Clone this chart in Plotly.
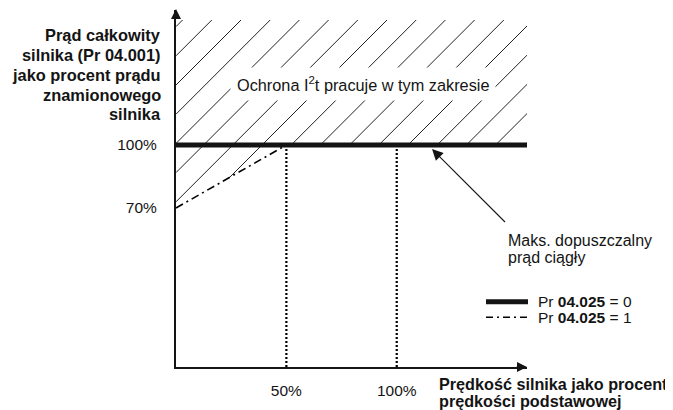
import plotly.graph_objects as go

# ---- data ----
speed_pr0 = [0, 159]          # % of base speed
current_pr0 = [100, 100]      # % of rated current (Pr 04.025 = 0)
speed_pr1 = [0, 50]
current_pr1 = [70, 100]       # Pr 04.025 = 1
base_speed_marks = [50, 100]
x_tick_vals = [50, 100]
x_tick_text = ["50%", "100%"]
y_tick_vals = [70, 100]
y_tick_text = ["70%", "100%"]

# ---- layout geometry (pixels of the 673x410 view; page body has 8px margin) ----
OFF = 8
W, H = 673 - OFF, 410 - OFF
AX_L, AX_R, AX_T, AX_B = 176, 527, 10, 367      # plot-area edges in view pixels
L, T = AX_L - OFF, AX_T - OFF
R, B = W - (AX_R - OFF), H - (AX_B - OFF)
PW, PH = AX_R - AX_L, AX_B - AX_T
X0, X1 = 0, 159
SX = PW / (X1 - X0)
SY = 2.1
Y1 = 100 + (145 - AX_T) / SY
Y0 = Y1 - PH / SY

def dx(px):
    return X0 + (px - AX_L) / SX

def dy(py):
    return Y1 - (py - AX_T) / SY

def paper_x(px):
    return (px - AX_L) / PW

def paper_y(py):
    return (AX_B - py) / PH

FONT = "Liberation Sans, Arial, sans-serif"
INK = "#141414"

# ---- hatch lines (45 degree, in pixel space then mapped to data) ----
hx, hy = [], []
spacing, c0 = 29.2, 26.6
top_py, line_py, right_px = 20, 145, 528
dd_py0 = 145 + (100 - current_pr1[0]) * SY
dd_slope = (dd_py0 - 145) / (speed_pr1[1] * SX)
for k in range(40):
    c = c0 + spacing * k
    t_lo = max(0, c - line_py)
    t_hi = min(right_px - AX_L, c - top_py)
    if t_lo < t_hi:
        hx += [dx(AX_L + t_lo), dx(AX_L + t_hi), None]
        hy += [dy(c - t_lo), dy(c - t_hi), None]
    if c > line_py:
        t_lo = max(0, (c - dd_py0) / (1 - dd_slope))
        t_hi = c - line_py
        if t_lo < t_hi:
            hx += [dx(AX_L + t_lo), dx(AX_L + t_hi), None]
            hy += [dy(c - t_lo), dy(c - t_hi), None]

fig = go.Figure()
fig.add_trace(go.Scatter(x=hx, y=hy, mode="lines",
                         line=dict(color="#222222", width=1),
                         hoverinfo="skip", showlegend=False))
for xv in base_speed_marks:
    fig.add_trace(go.Scatter(x=[xv, xv], y=[100, Y0], mode="lines",
                             line=dict(color="#000000", width=2.2, dash="2px,2px"),
                             hoverinfo="skip", showlegend=False))
fig.add_trace(go.Scatter(x=speed_pr1, y=current_pr1, mode="lines",
                         line=dict(color="#000000", width=1.6, dash="8px,4px,2px,4px"),
                         showlegend=False))
fig.add_trace(go.Scatter(x=speed_pr0, y=current_pr0, mode="lines",
                         line=dict(color=INK, width=5),
                         showlegend=False, cliponaxis=False))

ann = []
# axis arrows
ann.append(dict(x=0, y=Y1 + 0.5, ax=0, ay=Y1 - 8, xref="x", yref="y", axref="x", ayref="y",
                text=" ", showarrow=True, arrowhead=2, arrowwidth=2, arrowsize=1,
                arrowcolor=INK, standoff=0))
ann.append(dict(x=X1, y=Y0, ax=X1 - 6, ay=Y0, xref="x", yref="y", axref="x", ayref="y",
                text=" ", showarrow=True, arrowhead=2, arrowwidth=2, arrowsize=1,
                arrowcolor=INK, standoff=0))

# y title lines
ytitle = ["Prąd całkowity", "silnika (Pr 04.001)", "jako procent prądu",
          "znamionowego", "silnika"]
ycent = [35.0, 55.0, 75.0, 94.5, 114.2]
for s, py in zip(ytitle, ycent):
    ann.append(dict(x=paper_x(163), y=paper_y(py), xref="paper", yref="paper",
                    text="<b>" + s + "</b>", showarrow=False, xanchor="right",
                    yanchor="middle", font=dict(family=FONT, size=16.4, color=INK)))

# x title lines
xtitle = ["Prędkość silnika jako procent", "prędkości podstawowej"]
xcent = [383.8, 401.2]
for s, py in zip(xtitle, xcent):
    ann.append(dict(x=paper_x(437), y=paper_y(py), xref="paper", yref="paper",
                    text="<b>" + s + "</b>", showarrow=False, xanchor="left",
                    yanchor="middle", font=dict(family=FONT, size=16.2, color=INK)))

# region label
ann.append(dict(x=paper_x(363), y=paper_y(84), xref="paper", yref="paper",
                text="Ochrona I<sup>2</sup>t pracuje w tym zakresie", showarrow=False,
                xanchor="center", yanchor="middle", bgcolor="white", borderpad=6,
                font=dict(family=FONT, size=16.3, color=INK)))

# pointer note
for s, py in zip(["Maks. dopuszczalny", "prąd ciągły"], [241.0, 257.5]):
    ann.append(dict(x=paper_x(506), y=paper_y(py), xref="paper", yref="paper",
                    text=s, showarrow=False, xanchor="left", yanchor="middle",
                    font=dict(family=FONT, size=16, color=INK)))
ann.append(dict(x=paper_x(432), y=paper_y(149), xref="paper", yref="paper",
                ax=76, ay=76, text=" ", showarrow=True, arrowhead=2,
                arrowwidth=1.1, arrowsize=2, arrowcolor=INK, standoff=0))

# legend
shapes = []
leg = [("Pr <b>04.025</b> = 0", 301.7, dict(color=INK, width=5)),
       ("Pr <b>04.025</b> = 1", 317.3, dict(color="#000000", width=1.6, dash="7px,4px,2px,4px"))]
for s, py, ln in leg:
    shapes.append(dict(type="line", xref="paper", yref="paper",
                       x0=paper_x(486), x1=paper_x(528), y0=paper_y(py), y1=paper_y(py),
                       line=ln))
    ann.append(dict(x=paper_x(536), y=paper_y(py), xref="paper", yref="paper",
                    text=s, showarrow=False, xanchor="left", yanchor="middle",
                    font=dict(family=FONT, size=15.5, color=INK)))

fig.update_layout(
    width=W, height=H,
    margin=dict(l=L, r=R, t=T, b=B, pad=0),
    paper_bgcolor="white", plot_bgcolor="white",
    showlegend=False,
    xaxis=dict(range=[X0, X1], showgrid=False, zeroline=False, showline=True,
               linecolor=INK, linewidth=2, tickvals=x_tick_vals, ticktext=x_tick_text,
               ticks="", ticklabelstandoff=8,
               tickfont=dict(family=FONT, size=15.5, color=INK), fixedrange=True),
    yaxis=dict(range=[Y0, Y1], showgrid=False, zeroline=False, showline=True,
               linecolor=INK, linewidth=2, tickvals=y_tick_vals, ticktext=y_tick_text,
               ticks="", ticklabelstandoff=14,
               tickfont=dict(family=FONT, size=15.5, color=INK), fixedrange=True),
    annotations=ann,
    shapes=shapes,
)

fig.write_html("out.html")
